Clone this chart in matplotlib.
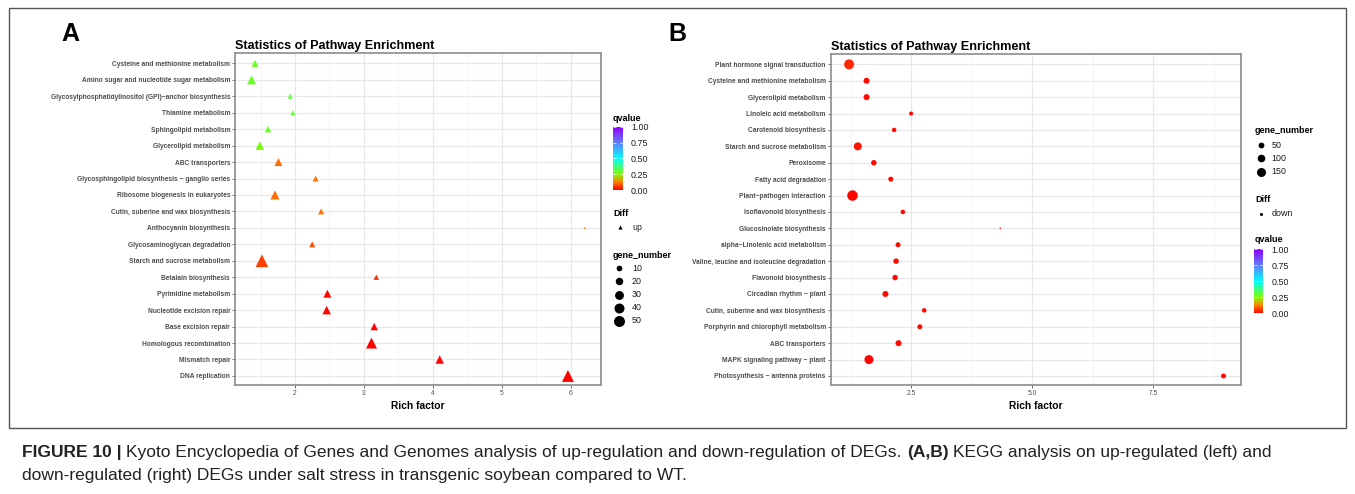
import numpy as np
import matplotlib
matplotlib.use("Agg")
import matplotlib.pyplot as plt
from matplotlib.colors import LinearSegmentedColormap, Normalize
from matplotlib.cm import ScalarMappable
from matplotlib.lines import Line2D
from matplotlib.patches import Rectangle
from matplotlib.font_manager import FontProperties, findfont

# ---- data (top row first) ----
a_pathways = ["Cysteine and methionine metabolism",
              "Amino sugar and nucleotide sugar metabolism",
              "Glycosylphosphatidylinositol (GPI)\u2212anchor biosynthesis",
              "Thiamine metabolism",
              "Sphingolipid metabolism",
              "Glycerolipid metabolism",
              "ABC transporters",
              "Glycosphingolipid biosynthesis \u2212 ganglio series",
              "Ribosome biogenesis in eukaryotes",
              "Cutin, suberine and wax biosynthesis",
              "Anthocyanin biosynthesis",
              "Glycosaminoglycan degradation",
              "Starch and sucrose metabolism",
              "Betalain biosynthesis",
              "Pyrimidine metabolism",
              "Nucleotide excision repair",
              "Base excision repair",
              "Homologous recombination",
              "Mismatch repair",
              "DNA replication"]
a_rich = [1.42, 1.37, 1.93, 1.97, 1.61, 1.49, 1.76, 2.30, 1.71, 2.38,
          6.20, 2.25, 1.52, 3.18, 2.47, 2.46, 3.15, 3.11, 4.10, 5.96]
a_genes = [12, 23, 5, 5, 10, 20, 17, 8, 23, 8,
           1, 8, 52, 6, 17, 20, 14, 37, 20, 45]
a_qvalue = [0.29, 0.29, 0.31, 0.31, 0.29, 0.26, 0.11, 0.11, 0.11, 0.11,
            0.11, 0.08, 0.065, 0.05, 0.005, 0.005, 0.005, 0.005, 0.005, 0.0]

b_pathways = ["Plant hormone signal transduction",
              "Cysteine and methionine metabolism",
              "Glycerolipid metabolism",
              "Linoleic acid metabolism",
              "Carotenoid biosynthesis",
              "Starch and sucrose metabolism",
              "Peroxisome",
              "Fatty acid degradation",
              "Plant\u2212pathogen interaction",
              "Isoflavonoid biosynthesis",
              "Glucosinolate biosynthesis",
              "alpha\u2212Linolenic acid metabolism",
              "Valine, leucine and isoleucine degradation",
              "Flavonoid biosynthesis",
              "Circadian rhythm \u2212 plant",
              "Cutin, suberine and wax biosynthesis",
              "Porphyrin and chlorophyll metabolism",
              "ABC transporters",
              "MAPK signaling pathway \u2212 plant",
              "Photosynthesis \u2212 antenna proteins"]
b_rich = [1.22, 1.58, 1.58, 2.50, 2.15, 1.40, 1.73, 2.08, 1.29, 2.33,
          4.34, 2.23, 2.19, 2.17, 1.97, 2.77, 2.68, 2.24, 1.63, 8.95]
b_genes = [192, 55, 55, 18, 25, 113, 43, 33, 215, 25,
           1, 33, 43, 43, 55, 25, 33, 55, 150, 33]
b_qvalue = [0.04, 0.01, 0.01, 0.01, 0.01, 0.02, 0.01, 0.01, 0.005, 0.01,
            0.01, 0.01, 0.01, 0.01, 0.01, 0.01, 0.01, 0.01, 0.005, 0.01]

a_size_breaks = [10, 20, 30, 40, 50]
b_size_breaks = [50, 100, 150]
q_breaks = [0.0, 0.25, 0.5, 0.75, 1.0]

W, H = 1355, 494
plt.rcParams['font.family'] = ['Liberation Sans', 'DejaVu Sans']

cmap = LinearSegmentedColormap.from_list(
    "qv", [(0, "#FF0000"), (0.125, "#FF8000"), (0.25, "#80FF00"),
           (0.5, "#00FFFF"), (0.75, "#6080FF"), (1.0, "#8F00FF")])
norm = Normalize(0, 1)

fig = plt.figure(figsize=(W / 100, H / 100), dpi=100)


def box(x0, y0, x1, y1):
    # pixel box (top-left origin) -> figure rect
    return [x0 / W, 1 - y1 / H, (x1 - x0) / W, (y1 - y0) / H]


def fx(x):
    return x / W


def fy(y):
    return 1 - y / H


def diam(n, lo, hi, dmin, dmax):
    n = np.asarray(n, dtype=float)
    return (dmin + (dmax - dmin) * np.sqrt((n - lo) / (hi - lo))) * 0.72


def panel(rect, names, rich, genes, q, marker, scale, xlim, major, minor, fmt):
    ax = fig.add_axes(rect)
    y = np.arange(len(names))[::-1]
    d = diam(genes, *scale)
    ax.scatter(rich, y, s=d ** 2, c=q, cmap=cmap, norm=norm, marker=marker,
               linewidths=0, zorder=3)
    ax.set_yticks(y)
    ax.set_yticklabels(names, fontsize=4.8, fontweight='bold', color='#4d4d4d')
    ax.set_ylim(-0.55, len(names) - 1 + 0.63)
    ax.set_xlim(*xlim)
    ax.set_xticks(major)
    ax.set_xticklabels([fmt.format(v) for v in major], fontsize=4.8, color='#4d4d4d')
    ax.set_xticks(minor, minor=True)
    ax.grid(True, which='major', color='#e8e8e8', lw=0.9)
    ax.grid(True, which='minor', axis='x', color='#f3f3f3', lw=0.6)
    ax.set_axisbelow(True)
    ax.tick_params(which='major', length=2, width=0.6, color='#555555', pad=1.5)
    ax.tick_params(which='minor', length=0)
    for s in ax.spines.values():
        s.set_color('#8c8c8c')
        s.set_linewidth(1.2)
    ax.set_title("Statistics of Pathway Enrichment", loc='left', fontsize=9.1,
                 fontweight='bold', pad=3)
    ax.set_xlabel("Rich factor", fontsize=7.4, fontweight='bold', labelpad=3)
    return ax


a_scale = (1, 55, 2, 13)
b_scale = (1, 240, 1.5, 11)

panel(box(235, 53, 601, 385), a_pathways, a_rich, a_genes, a_qvalue, '^', a_scale,
      (1.13, 6.44), [2, 3, 4, 5, 6], [1.5, 2.5, 3.5, 4.5, 5.5], "{:g}")
panel(box(830.7, 54, 1241, 385), b_pathways, b_rich, b_genes, b_qvalue, 'o', b_scale,
      (0.84, 9.31), [2.5, 5.0, 7.5], [1.25, 3.75, 6.25, 8.75], "{:.1f}")

fig.text(fx(70), fy(34), "A", fontsize=18, fontweight='bold', ha='center', va='center')
fig.text(fx(677), fy(34), "B", fontsize=18, fontweight='bold', ha='center', va='center')


# ---- legends ----
def title(x, y, s):
    fig.text(fx(x), fy(y), s, fontsize=6.5, fontweight='bold', ha='left', va='center')


def label(x, y, s):
    fig.text(fx(x), fy(y), s, fontsize=6.4, ha='left', va='center', color='#1a1a1a')


def key(x, y, marker, ms):
    fig.add_artist(Line2D([fx(x)], [fy(y)], transform=fig.transFigure, marker=marker,
                          ms=ms, color='black', ls='', mew=0))


def colorbar(rect):
    cax = fig.add_axes(rect)
    cb = fig.colorbar(ScalarMappable(norm=norm, cmap=cmap), cax=cax)
    cb.set_ticks(q_breaks)
    cb.set_ticklabels(["{:.2f}".format(v) for v in q_breaks])
    cb.outline.set_visible(False)
    cax.tick_params(left=True, right=True, direction='in', color='white', length=2,
                    width=0.5, labelsize=6.4, pad=6, labelcolor='#1a1a1a')


# panel A legend
title(613, 118, "qvalue")
colorbar(box(613, 127, 622.7, 190))
title(613, 213, "Diff")
key(620, 227, '^', 3)
label(632, 227, "up")
title(613, 255, "gene_number")
for i, v in enumerate(a_size_breaks):
    key(619.3, 268.3 + i * 13.1, 'o', float(diam(v, *a_scale)) * 0.88)
    label(632, 268.3 + i * 13.1, str(v))

# panel B legend
title(1255, 130.7, "gene_number")
for i, v in enumerate(b_size_breaks):
    key(1260.7, 145 + i * 13.35, 'o', float(diam(v, *b_scale)))
    label(1271.7, 145 + i * 13.35, str(v))
title(1255, 199.3, "Diff")
key(1261, 214, 'o', 2.2)
label(1272, 214, "down")
title(1255, 240, "qvalue")
colorbar(box(1254, 249.3, 1263.3, 313.3))

# outer frame
fig.add_artist(Rectangle((fx(9), fy(428)), (1346 - 9) / W, (428 - 8) / H,
                         transform=fig.transFigure, fill=False, ec='#555555', lw=1))

# ---- caption ----
try:
    findfont(FontProperties(family='Liberation Sans Narrow'), fallback_to_default=False)
    cap_family = ['Liberation Sans Narrow', 'DejaVu Sans']
except Exception:
    cap_family = ['Liberation Sans', 'DejaVu Sans']

line1 = [("FIGURE 10 |", 'bold'),
         ("Kyoto Encyclopedia of Genes and Genomes analysis of up-regulation and "
          "down-regulation of DEGs.", 'normal'),
         ("(A,B)", 'bold'),
         ("KEGG analysis on up-regulated (left) and", 'normal')]
line2 = [("down-regulated (right) DEGs under salt stress in transgenic soybean "
          "compared to WT.", 'normal')]

renderer = fig.canvas.get_renderer()


def measure(parts, size):
    total = 0
    for s, w in parts:
        t = fig.text(0, 0, s, fontsize=size, fontweight=w, family=cap_family)
        total += t.get_window_extent(renderer).width
        t.remove()
    return total + (len(parts) - 1) * size * 0.28 / 0.72


base = 10
cap_size = base * (1268 - 3 * base * 0.28 / 0.72) / measure(line1, base)
cap_size = min(cap_size, 12.5)


def draw_line(x, y, parts, size):
    for s, w in parts:
        t = fig.text(fx(x), fy(y), s, fontsize=size, fontweight=w, family=cap_family,
                     ha='left', va='center', color='#222222')
        x += t.get_window_extent(renderer).width + size * 0.28 / 0.72


draw_line(22, 452, line1, cap_size)
draw_line(22, 475, line2, cap_size)

fig.savefig("out.png", dpi=100)
